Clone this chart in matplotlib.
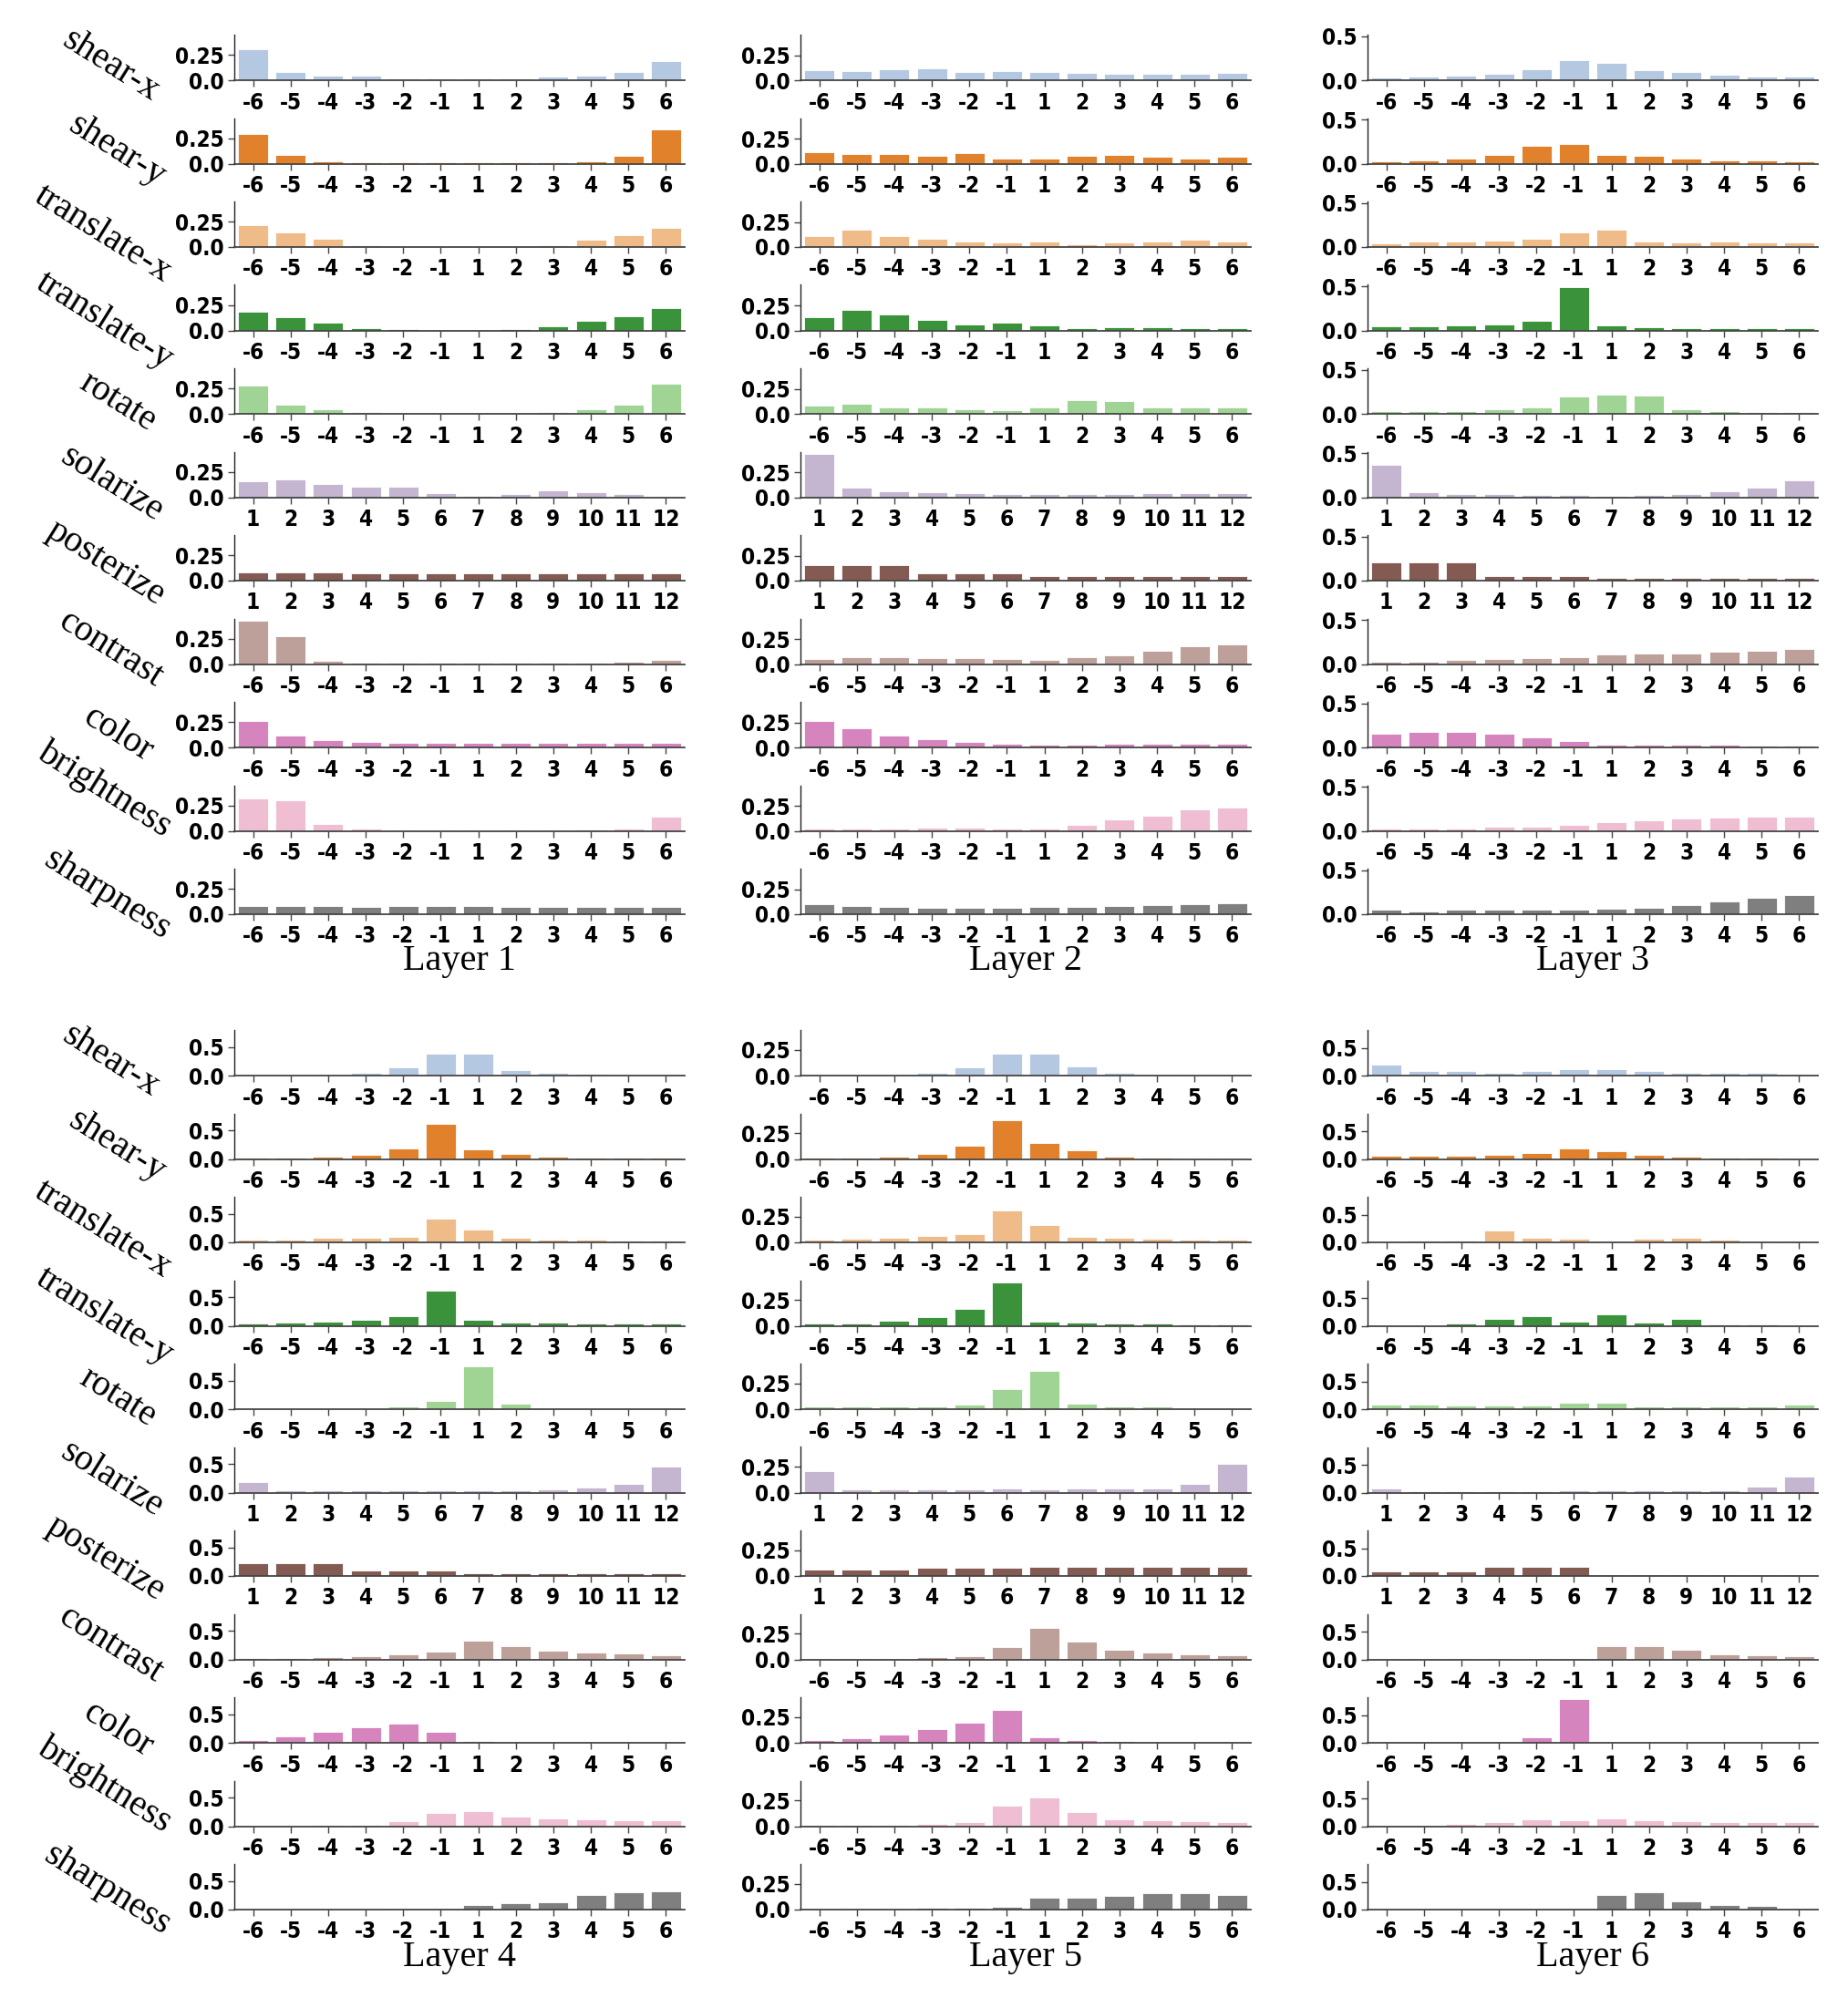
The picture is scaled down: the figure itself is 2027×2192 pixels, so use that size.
import colorsys

import matplotlib
matplotlib.use('Agg')
import matplotlib.pyplot as plt
import matplotlib.colors as mcolors
from matplotlib import font_manager

# ---- data -------------------------------------------------------------
transforms = ['shear-x', 'shear-y', 'translate-x', 'translate-y', 'rotate',
              'solarize', 'posterize', 'contrast', 'color', 'brightness', 'sharpness']
signed_ticks = ['-6', '-5', '-4', '-3', '-2', '-1', '1', '2', '3', '4', '5', '6']
level_ticks = ['1', '2', '3', '4', '5', '6', '7', '8', '9', '10', '11', '12']
level_rows = ['solarize', 'posterize']

# tab20 entries used for each transform
base_colors = ['#aec7e8', '#ff7f0e', '#ffbb78', '#2ca02c', '#98df8a', '#c5b0d5',
               '#8c564b', '#c49c94', '#e377c2', '#f7b6d2', '#7f7f7f']

layer1 = [
    [0.31, 0.083, 0.048, 0.041, 0.022, 0.022, 0.022, 0.022, 0.032, 0.041, 0.077, 0.19],
    [0.29, 0.086, 0.026, 0.016, 0.01, 0.01, 0.01, 0.01, 0.016, 0.026, 0.073, 0.34],
    [0.217, 0.147, 0.077, 0.022, 0.003, 0.003, 0.003, 0.003, 0.022, 0.07, 0.121, 0.19],
    [0.18, 0.134, 0.08, 0.019, 0.01, 0.003, 0.003, 0.01, 0.038, 0.096, 0.14, 0.22],
    [0.277, 0.089, 0.045, 0.016, 0.003, 0.003, 0.003, 0.003, 0.016, 0.045, 0.089, 0.30],
    [0.158, 0.18, 0.13, 0.103, 0.103, 0.045, 0.017, 0.034, 0.072, 0.052, 0.034, 0.007],
    [0.079, 0.079, 0.079, 0.069, 0.069, 0.069, 0.069, 0.069, 0.069, 0.069, 0.069, 0.069],
    [0.43, 0.275, 0.034, 0.017, 0.017, 0.017, 0.017, 0.017, 0.017, 0.017, 0.024, 0.045],
    [0.265, 0.12, 0.069, 0.058, 0.048, 0.041, 0.041, 0.041, 0.041, 0.041, 0.041, 0.041],
    [0.32, 0.30, 0.069, 0.02, 0.007, 0.007, 0.007, 0.007, 0.007, 0.017, 0.024, 0.138],
    [0.079, 0.079, 0.079, 0.069, 0.079, 0.079, 0.079, 0.069, 0.069, 0.069, 0.069, 0.069],
]
layer2 = [
    [0.105, 0.096, 0.114, 0.124, 0.08, 0.096, 0.08, 0.071, 0.062, 0.062, 0.062, 0.071],
    [0.111, 0.096, 0.096, 0.077, 0.102, 0.053, 0.053, 0.077, 0.087, 0.071, 0.053, 0.065],
    [0.114, 0.173, 0.114, 0.087, 0.053, 0.043, 0.059, 0.028, 0.043, 0.053, 0.077, 0.059],
    [0.13, 0.207, 0.164, 0.102, 0.059, 0.077, 0.049, 0.025, 0.034, 0.034, 0.025, 0.025],
    [0.087, 0.105, 0.062, 0.068, 0.049, 0.034, 0.062, 0.139, 0.13, 0.062, 0.062, 0.068],
    [0.44, 0.093, 0.062, 0.051, 0.041, 0.031, 0.031, 0.031, 0.031, 0.041, 0.041, 0.041],
    [0.161, 0.161, 0.161, 0.072, 0.072, 0.072, 0.045, 0.045, 0.045, 0.045, 0.045, 0.045],
    [0.048, 0.069, 0.069, 0.058, 0.058, 0.048, 0.041, 0.069, 0.086, 0.137, 0.175, 0.2],
    [0.268, 0.189, 0.117, 0.082, 0.055, 0.038, 0.031, 0.031, 0.038, 0.038, 0.038, 0.038],
    [0.024, 0.024, 0.024, 0.034, 0.034, 0.024, 0.024, 0.058, 0.113, 0.154, 0.213, 0.237],
    [0.1, 0.082, 0.075, 0.065, 0.065, 0.065, 0.075, 0.075, 0.082, 0.093, 0.1, 0.11],
]
layer3 = [
    [0.032, 0.042, 0.053, 0.074, 0.12, 0.23, 0.20, 0.11, 0.092, 0.06, 0.042, 0.042],
    [0.028, 0.039, 0.06, 0.099, 0.205, 0.227, 0.099, 0.089, 0.06, 0.039, 0.039, 0.028],
    [0.042, 0.06, 0.06, 0.078, 0.089, 0.166, 0.195, 0.06, 0.05, 0.06, 0.05, 0.05],
    [0.046, 0.046, 0.057, 0.067, 0.106, 0.496, 0.057, 0.039, 0.028, 0.021, 0.021, 0.021],
    [0.028, 0.028, 0.028, 0.05, 0.078, 0.198, 0.22, 0.209, 0.05, 0.028, 0.021, 0.021],
    [0.37, 0.058, 0.035, 0.035, 0.027, 0.027, 0.016, 0.027, 0.035, 0.07, 0.109, 0.19],
    [0.21, 0.21, 0.21, 0.05, 0.05, 0.05, 0.031, 0.031, 0.031, 0.031, 0.031, 0.031],
    [0.023, 0.023, 0.047, 0.054, 0.066, 0.078, 0.105, 0.116, 0.124, 0.136, 0.155, 0.175],
    [0.151, 0.175, 0.175, 0.151, 0.113, 0.074, 0.035, 0.035, 0.035, 0.035, 0.023, 0.023],
    [0.023, 0.023, 0.031, 0.043, 0.05, 0.07, 0.1, 0.12, 0.14, 0.147, 0.159, 0.159],
    [0.047, 0.035, 0.047, 0.047, 0.047, 0.047, 0.066, 0.078, 0.105, 0.144, 0.186, 0.217],
]
layer4 = [
    [0.023, 0.023, 0.023, 0.051, 0.141, 0.38, 0.38, 0.095, 0.051, 0.034, 0.017, 0.017],
    [0.017, 0.017, 0.039, 0.079, 0.192, 0.61, 0.169, 0.095, 0.039, 0.017, 0.017, 0.017],
    [0.056, 0.056, 0.074, 0.085, 0.095, 0.41, 0.22, 0.085, 0.056, 0.056, 0.034, 0.034],
    [0.034, 0.051, 0.067, 0.10, 0.175, 0.61, 0.10, 0.051, 0.051, 0.034, 0.034, 0.034],
    [0.011, 0.011, 0.011, 0.011, 0.046, 0.152, 0.76, 0.095, 0.011, 0.011, 0.011, 0.011],
    [0.18, 0.046, 0.046, 0.046, 0.046, 0.046, 0.046, 0.046, 0.062, 0.085, 0.152, 0.457],
    [0.221, 0.221, 0.221, 0.091, 0.091, 0.091, 0.051, 0.051, 0.051, 0.051, 0.051, 0.051],
    [0.017, 0.017, 0.034, 0.051, 0.085, 0.142, 0.33, 0.232, 0.152, 0.113, 0.097, 0.08],
    [0.046, 0.113, 0.187, 0.273, 0.33, 0.198, 0.028, 0.011, 0.011, 0.0, 0.0, 0.0],
    [0.011, 0.011, 0.028, 0.028, 0.091, 0.232, 0.262, 0.17, 0.136, 0.119, 0.108, 0.108],
    [0.003, 0.003, 0.003, 0.003, 0.011, 0.011, 0.08, 0.108, 0.124, 0.25, 0.312, 0.324],
]
layer5 = [
    [0.012, 0.012, 0.012, 0.03, 0.08, 0.214, 0.214, 0.086, 0.03, 0.012, 0.012, 0.012],
    [0.012, 0.012, 0.024, 0.049, 0.128, 0.373, 0.153, 0.08, 0.024, 0.012, 0.006, 0.006],
    [0.024, 0.037, 0.043, 0.061, 0.08, 0.305, 0.171, 0.049, 0.043, 0.037, 0.024, 0.024],
    [0.024, 0.024, 0.049, 0.086, 0.165, 0.415, 0.037, 0.03, 0.024, 0.024, 0.012, 0.012],
    [0.024, 0.024, 0.024, 0.024, 0.043, 0.19, 0.367, 0.055, 0.024, 0.024, 0.012, 0.012],
    [0.208, 0.03, 0.03, 0.03, 0.03, 0.037, 0.03, 0.037, 0.037, 0.043, 0.086, 0.28],
    [0.061, 0.061, 0.061, 0.08, 0.08, 0.08, 0.086, 0.086, 0.086, 0.086, 0.086, 0.086],
    [0.006, 0.006, 0.006, 0.018, 0.03, 0.116, 0.305, 0.171, 0.092, 0.067, 0.049, 0.043],
    [0.024, 0.043, 0.08, 0.128, 0.196, 0.318, 0.055, 0.024, 0.018, 0.006, 0.006, 0.006],
    [0.012, 0.012, 0.012, 0.024, 0.043, 0.196, 0.281, 0.14, 0.067, 0.061, 0.049, 0.043],
    [0.012, 0.012, 0.012, 0.018, 0.018, 0.03, 0.116, 0.116, 0.128, 0.159, 0.159, 0.14],
]
layer6 = [
    [0.2, 0.078, 0.078, 0.055, 0.089, 0.12, 0.12, 0.089, 0.044, 0.044, 0.044, 0.022],
    [0.055, 0.055, 0.055, 0.078, 0.1, 0.188, 0.144, 0.066, 0.044, 0.022, 0.022, 0.011],
    [0.011, 0.033, 0.033, 0.22, 0.078, 0.066, 0.022, 0.066, 0.078, 0.044, 0.022, 0.022],
    [0.011, 0.011, 0.044, 0.12, 0.166, 0.078, 0.2, 0.055, 0.12, 0.022, 0.022, 0.011],
    [0.089, 0.078, 0.066, 0.066, 0.066, 0.12, 0.11, 0.044, 0.044, 0.044, 0.044, 0.078],
    [0.078, 0.022, 0.022, 0.022, 0.022, 0.044, 0.044, 0.044, 0.044, 0.044, 0.11, 0.288],
    [0.089, 0.089, 0.089, 0.166, 0.166, 0.166, 0.011, 0.011, 0.011, 0.011, 0.011, 0.011],
    [0.005, 0.005, 0.005, 0.005, 0.005, 0.005, 0.244, 0.244, 0.166, 0.089, 0.066, 0.055],
    [0.0, 0.0, 0.0, 0.022, 0.1, 0.79, 0.0, 0.0, 0.0, 0.0, 0.0, 0.0],
    [0.011, 0.011, 0.033, 0.078, 0.12, 0.1, 0.133, 0.1, 0.089, 0.066, 0.066, 0.066],
    [0.0, 0.0, 0.0, 0.0, 0.0, 0.0, 0.266, 0.31, 0.144, 0.089, 0.066, 0.022],
]

layer_names = ['Layer 1', 'Layer 2', 'Layer 3', 'Layer 4', 'Layer 5', 'Layer 6']
layer_ylim = [0.45, 0.46, 0.52, 0.80, 0.44, 0.82]
layer_ytick = [0.25, 0.25, 0.5, 0.5, 0.25, 0.5]
layers = [layer1, layer2, layer3, layer4, layer5, layer6]


def desaturate(hex_color, prop=0.75):
    # same idea as seaborn's default bar saturation
    r, g, b = mcolors.to_rgb(hex_color)
    h, l, s = colorsys.rgb_to_hls(r, g, b)
    return colorsys.hls_to_rgb(h, l, s * prop)


def pick_tick_font():
    """Look for a bold condensed sans face, otherwise plain DejaVu Sans bold."""
    condensed = ('condensed', 'semi-condensed', 'extra-condensed', 'ultra-condensed')
    preferred = ['Liberation Sans Narrow', 'DejaVu Sans', 'Noto Sans', 'Roboto',
                 'Open Sans', 'Roboto Condensed', 'Open Sans Condensed']
    found = {}
    for f in font_manager.fontManager.ttflist:
        w = f.weight if isinstance(f.weight, int) else (700 if 'bold' in str(f.weight) else 400)
        if f.style != 'normal' or w < 600:
            continue
        if f.stretch in condensed or 'Narrow' in f.name or 'Condensed' in f.name:
            found.setdefault(f.name, f.fname)
    for name in preferred:
        if name in found:
            return font_manager.FontProperties(fname=found[name]), 17.5
    return font_manager.FontProperties(family='DejaVu Sans', weight='bold'), 15


bar_colors = [desaturate(c) for c in base_colors]
tick_font, tick_size = pick_tick_font()
tick_font.set_size(tick_size)
serif = ['Liberation Serif', 'DejaVu Serif']

# ---- layout (pixels of the 2027 x 2192 canvas) -------------------------
W, H = 2027, 2192
col_left = [257, 878, 1500]
col_w = 494
block_zero = [88, 1180]   # zero line of the first row in each block
row_step = 91.5
ax_h = 50
# centre of each slanted row name: x, and y relative to that row's zero line
label_cx = [121, 128, 113, 114, 129, 122, 116, 121, 130, 115, 117]
label_dy = [-16, -14, -14, -10, -13, -14, -19, -16, -14, -45, -21]

fig = plt.figure(figsize=(W / 100, H / 100), dpi=100)
fig.patch.set_facecolor('white')

x = list(range(12))
for li, vals in enumerate(layers):
    blk, col = divmod(li, 3)
    for ri, name in enumerate(transforms):
        zero_y = block_zero[blk] + ri * row_step
        ax = fig.add_axes([col_left[col] / W, 1 - zero_y / H, col_w / W, ax_h / H])
        ax.bar(x, vals[ri], width=0.8, color=bar_colors[ri],
               edgecolor='white', linewidth=0.6)
        ax.set_xlim(-0.5, 11.5)
        ax.set_ylim(0, layer_ylim[li])

        ax.set_xticks(x)
        labels = level_ticks if name in level_rows else signed_ticks
        ax.set_xticklabels(labels)
        tick = layer_ytick[li]
        ax.set_yticks([0, tick])
        ax.set_yticklabels(['0.0', '0.25' if tick == 0.25 else '0.5'])

        for lab in ax.get_xticklabels() + ax.get_yticklabels():
            lab.set_fontproperties(tick_font)

        ax.tick_params(axis='x', length=5, width=1, color='#444444', pad=4)
        ax.tick_params(axis='y', length=5, width=1, color='#444444', pad=3)
        ax.spines['top'].set_visible(False)
        ax.spines['right'].set_visible(False)
        ax.spines['left'].set_color('#222222')
        ax.spines['bottom'].set_color('#444444')
        ax.spines['left'].set_linewidth(1.0)
        ax.spines['bottom'].set_linewidth(1.3)
        ax.set_facecolor('none')

        if col == 0:
            fig.text(label_cx[ri] / W, 1 - (zero_y + label_dy[ri]) / H, name,
                     rotation=-32, ha='center', va='center',
                     fontsize=29, family=serif)

    last_zero = block_zero[blk] + 10 * row_step
    fig.text((col_left[col] + col_w / 2) / W, 1 - (last_zero + 52) / H,
             layer_names[li], ha='center', va='center', fontsize=29, family=serif)

fig.savefig('out.png', dpi=100, facecolor='white')
